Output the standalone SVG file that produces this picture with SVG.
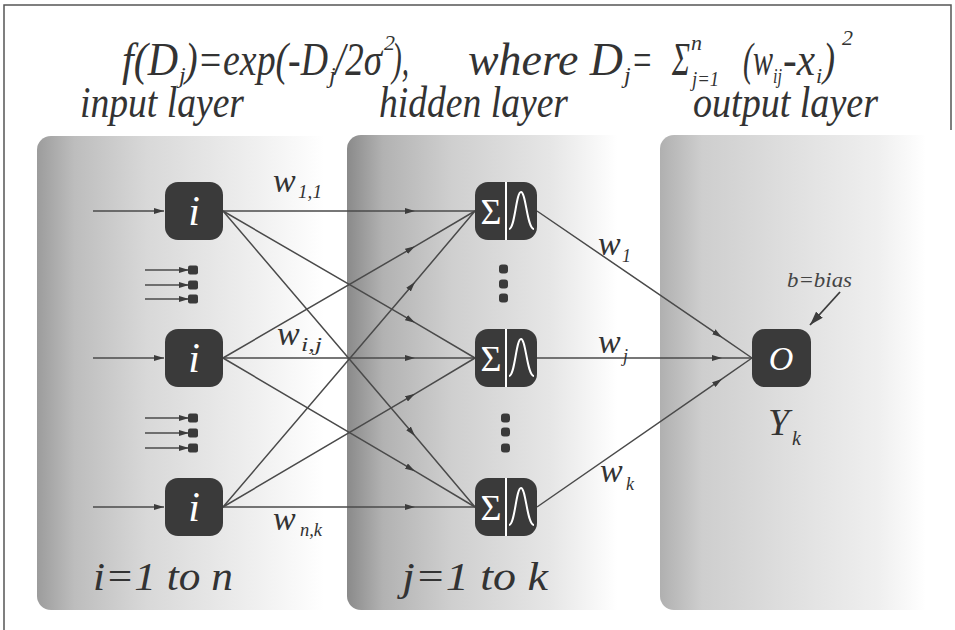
<svg xmlns="http://www.w3.org/2000/svg" width="955" height="630" viewBox="0 0 955 630">
<defs>
<linearGradient id="gIn" x1="0" y1="0" x2="1" y2="0">
<stop offset="0" stop-color="#9c9c9c"/><stop offset="0.12" stop-color="#bdbdbd"/><stop offset="0.35" stop-color="#d8d8d8"/><stop offset="0.65" stop-color="#ececec"/><stop offset="0.92" stop-color="#ffffff"/><stop offset="1" stop-color="#ffffff"/>
</linearGradient>
<linearGradient id="gHid" x1="0" y1="0" x2="1" y2="0">
<stop offset="0" stop-color="#8a8a8a"/><stop offset="0.12" stop-color="#b2b2b2"/><stop offset="0.35" stop-color="#cfcfcf"/><stop offset="0.68" stop-color="#e6e6e6"/><stop offset="0.9" stop-color="#ffffff"/><stop offset="1" stop-color="#ffffff"/>
</linearGradient>
<linearGradient id="gOut" x1="0" y1="0" x2="1" y2="0">
<stop offset="0" stop-color="#b0b0b0"/><stop offset="0.15" stop-color="#cecece"/><stop offset="0.5" stop-color="#e1e1e1"/><stop offset="0.78" stop-color="#efefef"/><stop offset="0.95" stop-color="#ffffff"/><stop offset="1" stop-color="#ffffff"/>
</linearGradient>
<marker id="ah" viewBox="0 0 10 6" refX="10" refY="3" markerWidth="10" markerHeight="6" orient="auto" markerUnits="userSpaceOnUse">
<path d="M0,0 L10,3 L0,6 z" fill="#3c3c3c"/>
</marker>
<marker id="ahBig" viewBox="0 0 14 9" refX="14" refY="4.5" markerWidth="14" markerHeight="9" orient="auto" markerUnits="userSpaceOnUse">
<path d="M0,0 L14,4.5 L0,9 z" fill="#3c3c3c"/>
</marker>
</defs>
<style>
.node{fill:#3a3a3a}
.con{fill:none;stroke:#4a4a4a;stroke-width:1.5}
.mid{marker-mid:url(#ah)}
.end{marker-end:url(#ah)}
.dot{fill:#3a3a3a}
</style>
<rect width="955" height="630" fill="#ffffff"/>
<path d="M4,640 L4,5 L951,5 L951,130" fill="none" stroke="#555" stroke-width="1.5"/>

<g id="panels">
<rect x="37" y="136" width="312" height="474" rx="14" fill="url(#gIn)"/>
<rect x="347" y="135" width="300" height="475" rx="14" fill="url(#gHid)"/>
<rect x="660" y="135" width="280" height="475" rx="14" fill="url(#gOut)"/>
</g>

<g id="title" font-family="Liberation Serif" font-style="italic" fill="#333" font-size="46">
<text x="122" y="75" textLength="56" lengthAdjust="spacingAndGlyphs">f(D</text>
<text x="179" y="83" font-size="24">j</text>
<text x="185" y="75" textLength="143" lengthAdjust="spacingAndGlyphs">)=exp(-D</text>
<text x="329" y="83" font-size="24">j</text>
<text x="335" y="75" textLength="47" lengthAdjust="spacingAndGlyphs">/2σ</text>
<text x="384" y="50" font-size="22">2</text>
<text x="392" y="75" textLength="17" lengthAdjust="spacingAndGlyphs">),</text>
<text x="468" y="75" textLength="155" lengthAdjust="spacingAndGlyphs">where D</text>
<text x="624" y="83" font-size="24">j</text>
<text x="631" y="75" textLength="22" lengthAdjust="spacingAndGlyphs">=</text>
<text x="672" y="75" textLength="18" lengthAdjust="spacingAndGlyphs">Σ</text>
<text x="691" y="50" font-size="22">n</text>
<text x="692" y="86" font-size="22" textLength="27" lengthAdjust="spacingAndGlyphs">j=1</text>
<text x="743" y="75" textLength="30" lengthAdjust="spacingAndGlyphs">(w</text>
<text x="773" y="83" font-size="22" textLength="9" lengthAdjust="spacingAndGlyphs">ij</text>
<text x="783" y="75" textLength="32" lengthAdjust="spacingAndGlyphs">-x</text>
<text x="816" y="83" font-size="22">i</text>
<text x="823" y="75" textLength="12" lengthAdjust="spacingAndGlyphs">)</text>
<text x="842" y="45" font-size="22">2</text>
</g>

<g id="layer-labels" font-family="Liberation Serif" font-style="italic" fill="#333" font-size="44">
<text x="80" y="117" textLength="164" lengthAdjust="spacingAndGlyphs">input layer</text>
<text x="379" y="117" textLength="189" lengthAdjust="spacingAndGlyphs">hidden layer</text>
<text x="693" y="117" textLength="185" lengthAdjust="spacingAndGlyphs">output layer</text>
</g>

<g id="connectors">
<path class="con end" d="M93,211 L164,211"/>
<path class="con end" d="M93,358 L164,358"/>
<path class="con end" d="M93,507 L164,507"/>
<path class="con end" d="M145,270 L189,270" stroke-width="1.2"/>
<path class="con end" d="M145,285 L189,285" stroke-width="1.2"/>
<path class="con end" d="M145,299 L189,299" stroke-width="1.2"/>
<path class="con end" d="M145,418 L189,418" stroke-width="1.2"/>
<path class="con end" d="M145,433 L189,433" stroke-width="1.2"/>
<path class="con end" d="M145,448 L189,448" stroke-width="1.2"/>
<path class="con mid" d="M223,211 L415,211 L475,211"/>
<path class="con mid" d="M223,211 L415,322.7 L475,358"/>
<path class="con mid" d="M223,211 L415,436 L475,507"/>
<path class="con mid" d="M223,358 L415,246.3 L475,211"/>
<path class="con mid" d="M223,358 L415,358 L475,358"/>
<path class="con mid" d="M223,358 L415,471.2 L475,507"/>
<path class="con mid" d="M223,507 L415,282 L475,211"/>
<path class="con mid" d="M223,507 L415,393.8 L475,358"/>
<path class="con mid" d="M223,507 L415,507 L475,507"/>
<path class="con mid" d="M537,211 L722,337.4 L752,358"/>
<path class="con mid" d="M537,358 L722,358 L752,358"/>
<path class="con mid" d="M537,507 L722,378.9 L752,358"/>
<path d="M840,292 L810,325" fill="none" stroke="#3c3c3c" stroke-width="1.8" marker-end="url(#ahBig)"/>
</g>

<g id="input-dots">
<rect class="dot" x="188" y="265.5" width="10" height="9" rx="2"/>
<rect class="dot" x="188" y="280.5" width="10" height="9" rx="2"/>
<rect class="dot" x="188" y="294.5" width="10" height="9" rx="2"/>
<rect class="dot" x="188" y="413.5" width="10" height="9" rx="2"/>
<rect class="dot" x="188" y="428.5" width="10" height="9" rx="2"/>
<rect class="dot" x="188" y="443.5" width="10" height="9" rx="2"/>
</g>

<g id="hidden-dots">
<rect class="dot" x="499" y="264.5" width="9" height="9" rx="3"/>
<rect class="dot" x="499" y="279.5" width="9" height="9" rx="3"/>
<rect class="dot" x="499" y="293.5" width="9" height="9" rx="3"/>
<rect class="dot" x="501" y="413.5" width="9" height="9" rx="3"/>
<rect class="dot" x="501" y="427.5" width="9" height="9" rx="3"/>
<rect class="dot" x="501" y="443.5" width="9" height="9" rx="3"/>
</g>

<g id="input-1" font-family="Liberation Serif" font-style="italic" fill="#fff">
<rect class="node" x="165" y="182" width="58" height="58" rx="13"/>
<text x="194" y="225" font-size="42" text-anchor="middle">i</text>
</g>
<g id="input-2" font-family="Liberation Serif" font-style="italic" fill="#fff">
<rect class="node" x="165" y="329" width="58" height="58" rx="13"/>
<text x="194" y="372" font-size="42" text-anchor="middle">i</text>
</g>
<g id="input-3" font-family="Liberation Serif" font-style="italic" fill="#fff">
<rect class="node" x="165" y="478" width="58" height="58" rx="13"/>
<text x="194" y="521" font-size="42" text-anchor="middle">i</text>
</g>

<g id="hidden-1" font-family="Liberation Serif" fill="#fff">
<rect class="node" x="475" y="182" width="62" height="58" rx="13"/>
<line x1="506" y1="182" x2="506" y2="240" stroke="#fff" stroke-width="2"/>
<text x="491" y="224" font-size="36" text-anchor="middle">Σ</text>
<path d="M509,229 C515,229 516,192 521,192 C526,192 527,229 534,229" fill="none" stroke="#fff" stroke-width="2"/>
</g>
<g id="hidden-2" font-family="Liberation Serif" fill="#fff">
<rect class="node" x="475" y="329" width="62" height="58" rx="13"/>
<line x1="506" y1="329" x2="506" y2="387" stroke="#fff" stroke-width="2"/>
<text x="491" y="371" font-size="36" text-anchor="middle">Σ</text>
<path d="M509,376 C515,376 516,339 521,339 C526,339 527,376 534,376" fill="none" stroke="#fff" stroke-width="2"/>
</g>
<g id="hidden-3" font-family="Liberation Serif" fill="#fff">
<rect class="node" x="475" y="478" width="62" height="58" rx="13"/>
<line x1="506" y1="478" x2="506" y2="536" stroke="#fff" stroke-width="2"/>
<text x="491" y="520" font-size="36" text-anchor="middle">Σ</text>
<path d="M509,525 C515,525 516,488 521,488 C526,488 527,525 534,525" fill="none" stroke="#fff" stroke-width="2"/>
</g>

<g id="output" font-family="Liberation Serif" font-style="italic" fill="#fff">
<rect class="node" x="752" y="329" width="59" height="58" rx="13"/>
<text x="781" y="370" font-size="34" text-anchor="middle">O</text>
</g>

<g id="weights" font-family="Liberation Serif" font-style="italic" fill="#333">
<text x="273" y="192" font-size="34">w</text><text x="298" y="198" font-size="18" textLength="24" lengthAdjust="spacingAndGlyphs">1,1</text>
<text x="277" y="345" font-size="34">w</text><text x="301" y="351" font-size="18" textLength="21" lengthAdjust="spacingAndGlyphs">i,j</text>
<text x="273" y="530" font-size="34">w</text><text x="300" y="536" font-size="18" textLength="22" lengthAdjust="spacingAndGlyphs">n,k</text>
<text x="598" y="255" font-size="34">w</text><text x="622" y="262" font-size="18">1</text>
<text x="598" y="353" font-size="34">w</text><text x="623" y="362" font-size="18">j</text>
<text x="600" y="482" font-size="34">w</text><text x="626" y="490" font-size="18">k</text>
</g>

<g id="misc-labels" font-family="Liberation Serif" font-style="italic" fill="#333">
<text x="787" y="287" font-size="22" textLength="65" lengthAdjust="spacingAndGlyphs" fill="#444">b=bias</text>
<text x="768" y="435" font-size="38">Y</text><text x="792" y="445" font-size="20">k</text>
<text x="93" y="590" font-size="40" textLength="140" lengthAdjust="spacingAndGlyphs">i=1 to n</text>
<text x="402" y="590" font-size="40" textLength="146" lengthAdjust="spacingAndGlyphs">j=1 to k</text>
</g>
</svg>
